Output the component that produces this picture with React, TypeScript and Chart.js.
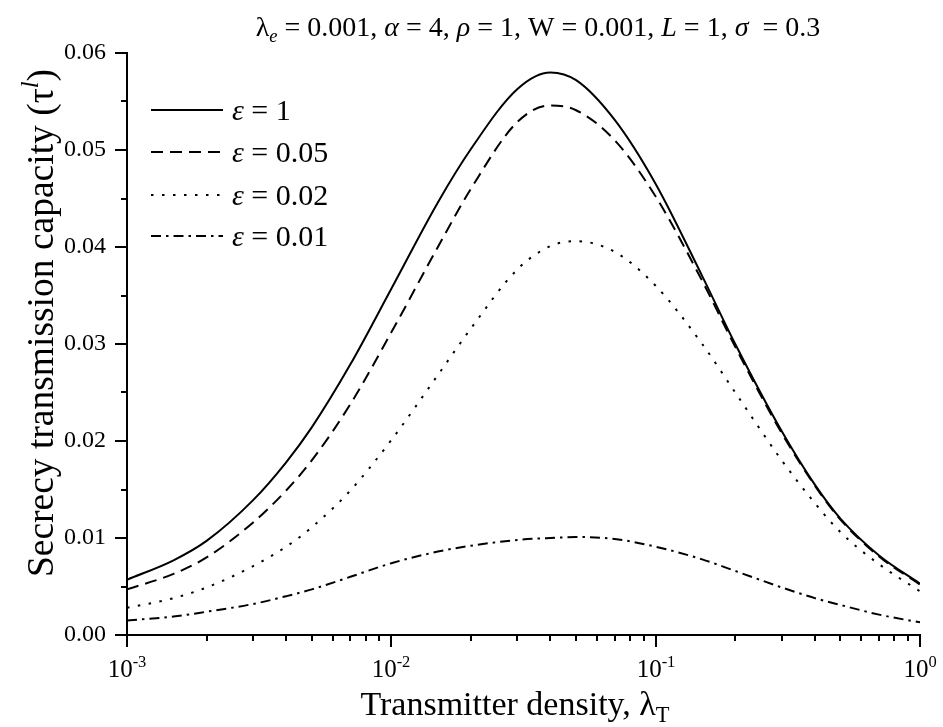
import React, { useEffect, useRef } from 'react';
import { Chart, registerables } from 'chart.js';

Chart.register(...registerables);

// ---- data ----
const densities = [0.001, 0.0015, 0.002, 0.003, 0.004, 0.005, 0.007, 0.01, 0.015, 0.02, 0.03, 0.04, 0.05, 0.07, 0.1, 0.15, 0.2, 0.3, 0.4, 0.5, 0.7, 1.0];
const capEps1 = [0.0057, 0.0077, 0.0097, 0.0139, 0.0178, 0.0214, 0.0279, 0.0357, 0.0446, 0.0501, 0.0563, 0.0580, 0.0572, 0.0531, 0.0465, 0.0370, 0.0300, 0.0210, 0.0155, 0.0120, 0.0082, 0.0053];
const capEps005 = [0.0047, 0.0063, 0.0080, 0.0116, 0.0149, 0.0180, 0.0238, 0.0312, 0.0400, 0.0460, 0.0529, 0.0546, 0.0541, 0.0510, 0.0452, 0.0365, 0.0297, 0.0208, 0.0154, 0.0119, 0.0081, 0.0052];
const capEps002 = [0.0028, 0.0038, 0.0049, 0.0071, 0.0091, 0.0111, 0.0149, 0.0201, 0.0268, 0.0316, 0.0377, 0.0401, 0.0406, 0.0395, 0.0360, 0.0300, 0.0250, 0.0180, 0.0136, 0.0106, 0.0073, 0.0045];
const capEps001 = [0.0015, 0.0019, 0.0024, 0.0032, 0.0040, 0.0047, 0.0060, 0.0074, 0.0086, 0.0092, 0.0098, 0.0100, 0.0101, 0.0099, 0.0091, 0.0078, 0.0066, 0.0049, 0.0038, 0.0031, 0.0021, 0.0013];
const epsLabels = ['1', '0.05', '0.02', '0.01'];

const yTickValues = [0, 0.005, 0.01, 0.015, 0.02, 0.025, 0.03, 0.035, 0.04, 0.045, 0.05, 0.055, 0.06];
const xDecades = [0.001, 0.01, 0.1, 1];
const xDecadeExponents = ['-3', '-2', '-1', '0'];
const minorMultipliers = [2, 3, 4, 5, 6, 7, 8, 9];

const FONT = '"Liberation Serif", "Times New Roman", serif';

type Seg = { t: string; it?: boolean; sub?: boolean; sup?: boolean };

function segFont(size: number, s: Seg) {
  const sz = s.sub || s.sup ? size * 0.66 : size;
  return `${s.it ? 'italic ' : ''}${sz}px ${FONT}`;
}
function measureRich(ctx: CanvasRenderingContext2D, segs: Seg[], size: number) {
  let w = 0;
  for (const s of segs) {
    ctx.font = segFont(size, s);
    w += ctx.measureText(s.t).width;
  }
  return w;
}
function drawRich(ctx: CanvasRenderingContext2D, segs: Seg[], x: number, y: number, size: number, align: 'left' | 'center') {
  const w = measureRich(ctx, segs, size);
  let cx = align === 'center' ? x - w / 2 : x;
  ctx.textAlign = 'left';
  ctx.textBaseline = 'alphabetic';
  for (const s of segs) {
    ctx.font = segFont(size, s);
    const dy = s.sub ? size * 0.22 : s.sup ? -size * 0.4 : 0;
    ctx.fillText(s.t, cx, y + dy);
    cx += ctx.measureText(s.t).width;
  }
}

const titleSegs: Seg[] = [
  { t: 'λ' }, { t: 'e', it: true, sub: true }, { t: ' = 0.001, ' },
  { t: 'α', it: true }, { t: ' = 4, ' },
  { t: 'ρ', it: true }, { t: ' = 1, W = 0.001, ' },
  { t: 'L', it: true }, { t: ' = 1, ' },
  { t: 'σ', it: true }, { t: '  = 0.3' },
];
const yTitleSegs: Seg[] = [{ t: 'Secrecy transmission capacity (τ' }, { t: 'l', it: true, sup: true }, { t: ')' }];
const xTitleSegs: Seg[] = [{ t: 'Transmitter density, λ' }, { t: 'T', sub: true }];

const dashStyles: number[][] = [[], [12, 7], [2.5, 8.5], [10, 5, 2.5, 5]];

const decorPlugin = {
  id: 'decor',
  afterDraw(chart: any) {
    const ctx: CanvasRenderingContext2D = chart.ctx;
    const xs = chart.scales.x;
    const ys = chart.scales.y;
    const area = chart.chartArea;
    ctx.save();
    ctx.strokeStyle = '#000';
    ctx.fillStyle = '#000';
    ctx.lineWidth = 2;
    ctx.setLineDash([]);
    for (const v of yTickValues) {
      const py = Math.round(ys.getPixelForValue(v));
      const major = Math.abs(v * 100 - Math.round(v * 100)) < 1e-6;
      const len = major ? 12 : 6;
      ctx.beginPath();
      ctx.moveTo(area.left - len, py);
      ctx.lineTo(area.left, py);
      ctx.stroke();
    }
    xDecades.forEach((d, i) => {
      const px = Math.round(xs.getPixelForValue(d));
      ctx.beginPath();
      ctx.moveTo(px, area.bottom);
      ctx.lineTo(px, area.bottom + 12);
      ctx.stroke();
      if (i < xDecades.length - 1) {
        for (const m of minorMultipliers) {
          const mx = Math.round(xs.getPixelForValue(d * m));
          ctx.beginPath();
          ctx.moveTo(mx, area.bottom);
          ctx.lineTo(mx, area.bottom + 6);
          ctx.stroke();
        }
      }
      const segs: Seg[] = [{ t: '10' }, { t: xDecadeExponents[i], sup: true }];
      drawRich(ctx, segs, px, 677, 25, 'center');
    });
    drawRich(ctx, titleSegs, 538, 36, 28, 'center');
    drawRich(ctx, xTitleSegs, 515, 715, 34, 'center');
    ctx.save();
    ctx.translate(53, 323);
    ctx.rotate(-Math.PI / 2);
    drawRich(ctx, yTitleSegs, 0, 0, 37.5, 'center');
    ctx.restore();
    const rowsY = [110, 152, 195, 236];
    epsLabels.forEach((lab, i) => {
      const y = rowsY[i];
      ctx.setLineDash(dashStyles[i]);
      ctx.lineWidth = 2;
      ctx.beginPath();
      ctx.moveTo(151, y);
      ctx.lineTo(223, y);
      ctx.stroke();
      ctx.setLineDash([]);
      drawRich(ctx, [{ t: 'ε', it: true }, { t: ' = ' + lab }], 232, y + 10, 30, 'left');
    });
    ctx.restore();
  },
};

export default function App() {
  const ref = useRef<HTMLCanvasElement>(null);
  useEffect(() => {
    if (!ref.current) return;
    const series = [capEps1, capEps005, capEps002, capEps001];
    const chart = new Chart(ref.current, {
      type: 'line',
      data: {
        datasets: series.map((vals, i) => ({
          label: 'ε = ' + epsLabels[i],
          data: densities.map((d, j) => ({ x: d, y: vals[j] })),
          borderColor: '#000',
          borderWidth: 2,
          borderDash: dashStyles[i],
          pointRadius: 0,
          fill: false,
          cubicInterpolationMode: 'monotone' as const,
        })),
      },
      options: {
        responsive: false,
        animation: false,
        events: [],
        devicePixelRatio: 1,
        layout: { padding: { top: 53, right: 23, left: 0, bottom: 0 } },
        plugins: { legend: { display: false }, title: { display: false }, tooltip: { enabled: false } },
        scales: {
          x: {
            type: 'logarithmic',
            min: 0.001,
            max: 1,
            grid: { display: false, drawTicks: false },
            border: { display: true, color: '#000', width: 2 },
            ticks: { display: false },
            afterFit: (s: any) => { s.height = 92; },
          },
          y: {
            type: 'linear',
            min: 0,
            max: 0.06,
            grid: { display: true, drawOnChartArea: false, drawTicks: true, tickLength: 12, tickColor: 'rgba(0,0,0,0)' },
            border: { display: true, color: '#000', width: 2 },
            ticks: {
              stepSize: 0.01,
              padding: 9,
              color: '#000',
              font: { family: FONT, size: 24 },
              callback: (v: any) => Number(v).toFixed(2),
            },
            afterFit: (s: any) => { s.width = 127; },
          },
        },
      } as any,
      plugins: [decorPlugin],
    });
    return () => chart.destroy();
  }, []);
  return (
    <div style={{ position: 'fixed', left: 0, top: 0, width: 943, height: 727, background: '#fff' }}>
      <canvas ref={ref} width={943} height={727} style={{ display: 'block' }} />
    </div>
  );
}
